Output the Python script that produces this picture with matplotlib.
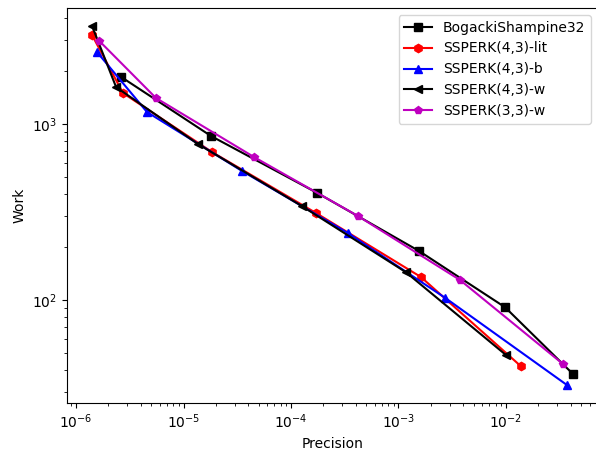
import matplotlib
matplotlib.use("Agg")
import matplotlib.pyplot as plt

bs32_x = [2.63e-6, 1.80e-5, 1.75e-4, 1.55e-3, 9.8e-3, 0.042]
bs32_y = [1850, 855, 406, 190, 91, 38]

lit_x = [1.41e-6, 2.73e-6, 1.84e-5, 1.71e-4, 1.62e-3, 0.0138]
lit_y = [3200, 1500, 693, 312, 135, 42]

b_x = [1.57e-6, 4.57e-6, 3.50e-5, 3.39e-4, 2.71e-3, 0.0369]
b_y = [2560, 1170, 541, 240, 103, 32.9]

w_x = [1.41e-6, 2.36e-6, 1.36e-5, 1.26e-4, 1.17e-3, 1.0e-2]
w_y = [3600, 1620, 770, 342, 144, 48.7]

w33_x = [1.64e-6, 5.54e-6, 4.53e-5, 4.20e-4, 3.73e-3, 0.0339]
w33_y = [2970, 1405, 649, 300, 130, 43.3]

fig = plt.figure(figsize=(5.96, 4.55), dpi=100)
ax = fig.add_axes([67/596, 52/455, (598-67)/596, (403-8)/455])

ax.plot(bs32_x, bs32_y, color='black', marker='s', label='BogackiShampine32')
ax.plot(lit_x, lit_y, color='red', marker='h', label='SSPERK(4,3)-lit')
ax.plot(b_x, b_y, color='blue', marker='^', label='SSPERK(4,3)-b')
ax.plot(w_x, w_y, color='black', marker='<', label='SSPERK(4,3)-w')
ax.plot(w33_x, w33_y, color='m', marker='p', label='SSPERK(3,3)-w')

ax.set_xscale('log')
ax.set_yscale('log')
ax.set_xlim(10**-6.084, 10**-1.144)
ax.set_ylim(10**1.415, 10**3.659)
ax.set_xlabel('Precision')
ax.set_ylabel('Work')
ax.legend(loc='upper right')

fig.savefig('out.png', dpi=100)
